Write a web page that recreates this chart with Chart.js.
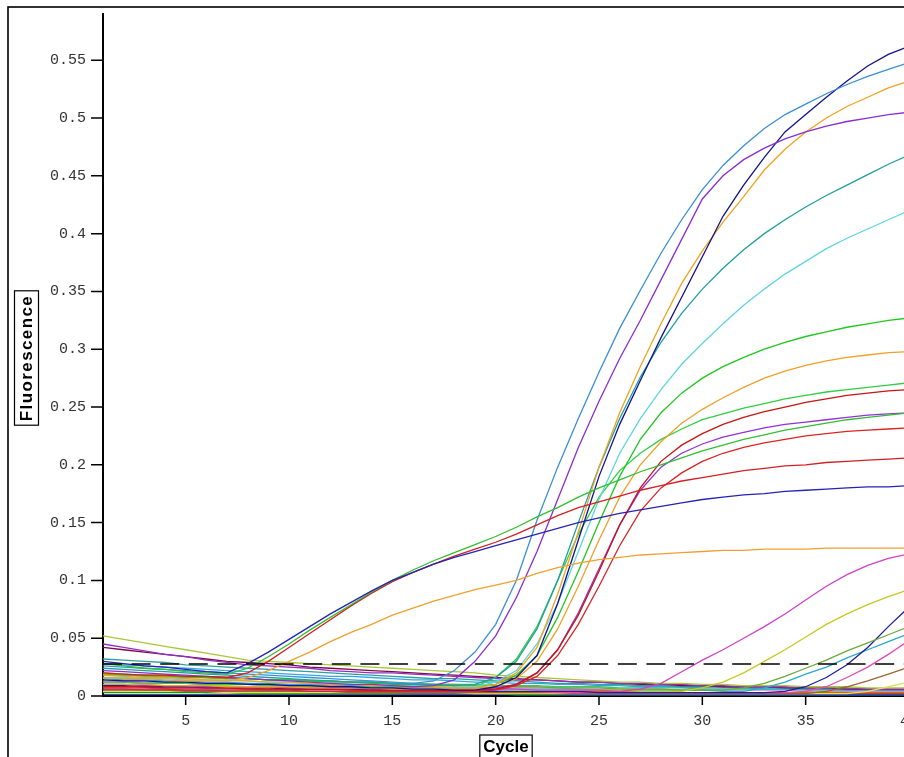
<!DOCTYPE html>
<html>
<head>
<meta charset="utf-8">
<title>Amplification plot</title>
<script src="https://cdn.jsdelivr.net/npm/chart.js@4.4.1/dist/chart.umd.min.js"></script>
<style>
  html, body { margin: 0; padding: 0; background: #fff; }
  #frame { width: 904px; height: 757px; overflow: hidden; }
  #plot { display: block; }
</style>
</head>
<body>
<div id="frame"><canvas id="plot" width="918" height="757" style="width:918px;height:757px"></canvas></div>
<script>
// ---- Axes ----
const CYCLES = [1,2,3,4,5,6,7,8,9,10,11,12,13,14,15,16,17,18,19,20,
                21,22,23,24,25,26,27,28,29,30,31,32,33,34,35,36,37,38,39,40];
const X_TITLE = "Cycle";
const Y_TITLE = "Fluorescence";
const THRESHOLD = 0.0277;

// ---- Wells: early risers ----
const eBlue = [0.030,0.028,0.026,0.025,0.023,0.021,0.020,0.028,0.038,0.049,
  0.060,0.071,0.081,0.091,0.100,0.107,0.114,0.120,0.125,0.130,
  0.135,0.140,0.145,0.150,0.154,0.158,0.161,0.164,0.167,0.170,
  0.172,0.174,0.175,0.177,0.178,0.179,0.180,0.181,0.181,0.182];
const eGreen = [0.028,0.026,0.024,0.023,0.021,0.020,0.019,0.024,0.034,0.045,
  0.057,0.068,0.079,0.090,0.100,0.109,0.117,0.124,0.131,0.138,
  0.146,0.155,0.163,0.172,0.180,0.187,0.194,0.200,0.206,0.212,
  0.217,0.222,0.226,0.230,0.233,0.236,0.239,0.241,0.243,0.245];
const eRed = [0.020,0.019,0.018,0.018,0.017,0.017,0.016,0.020,0.030,0.042,
  0.054,0.066,0.078,0.089,0.099,0.107,0.114,0.121,0.127,0.133,
  0.140,0.148,0.156,0.163,0.168,0.173,0.178,0.182,0.186,0.189,
  0.192,0.195,0.197,0.199,0.200,0.202,0.203,0.204,0.205,0.206];
const eOrange = [0.016,0.015,0.015,0.014,0.013,0.013,0.013,0.016,0.022,0.030,
  0.038,0.047,0.055,0.062,0.070,0.076,0.082,0.087,0.092,0.096,
  0.100,0.106,0.111,0.115,0.118,0.120,0.122,0.123,0.124,0.125,
  0.126,0.126,0.127,0.127,0.127,0.128,0.128,0.128,0.128,0.128];

// ---- Wells: main sigmoid group ----
const steelBlue = [0.026,0.025,0.024,0.023,0.022,0.021,0.020,0.019,0.018,0.017,
  0.016,0.015,0.014,0.013,0.012,0.011,0.013,0.022,0.038,0.062,
  0.100,0.152,0.198,0.240,0.280,0.318,0.351,0.383,0.412,0.438,
  0.459,0.476,0.491,0.503,0.512,0.521,0.529,0.536,0.542,0.548];
const violet = [0.022,0.021,0.020,0.019,0.018,0.017,0.016,0.015,0.014,0.013,
  0.012,0.011,0.010,0.010,0.009,0.008,0.009,0.014,0.030,0.052,
  0.085,0.125,0.170,0.215,0.255,0.292,0.325,0.360,0.395,0.430,
  0.450,0.464,0.474,0.482,0.488,0.493,0.497,0.500,0.503,0.505];
const navy = [0.014,0.013,0.013,0.012,0.012,0.011,0.011,0.010,0.010,0.009,
  0.009,0.008,0.008,0.007,0.007,0.006,0.006,0.005,0.005,0.008,
  0.016,0.035,0.080,0.135,0.190,0.235,0.273,0.310,0.345,0.380,
  0.415,0.442,0.466,0.488,0.503,0.518,0.532,0.545,0.555,0.562];
const gold = [0.018,0.017,0.016,0.016,0.015,0.014,0.014,0.013,0.012,0.012,
  0.011,0.010,0.010,0.009,0.009,0.008,0.008,0.007,0.007,0.010,
  0.020,0.042,0.088,0.142,0.198,0.245,0.285,0.322,0.357,0.385,
  0.410,0.432,0.455,0.473,0.488,0.500,0.510,0.518,0.526,0.532];
const teal = [0.024,0.023,0.022,0.021,0.020,0.019,0.018,0.017,0.016,0.015,
  0.014,0.013,0.012,0.012,0.011,0.010,0.010,0.009,0.010,0.016,
  0.030,0.058,0.100,0.150,0.198,0.240,0.276,0.306,0.331,0.352,
  0.370,0.386,0.400,0.412,0.423,0.433,0.442,0.451,0.460,0.468];
const cyan = [0.016,0.016,0.015,0.015,0.014,0.014,0.013,0.013,0.012,0.012,
  0.011,0.011,0.010,0.010,0.009,0.009,0.008,0.008,0.008,0.012,
  0.022,0.045,0.080,0.125,0.170,0.210,0.240,0.265,0.287,0.305,
  0.322,0.338,0.352,0.365,0.376,0.387,0.396,0.404,0.412,0.420];
const green2 = [0.020,0.019,0.018,0.018,0.017,0.016,0.016,0.015,0.014,0.014,
  0.013,0.012,0.012,0.011,0.010,0.010,0.009,0.009,0.008,0.010,
  0.018,0.035,0.068,0.108,0.150,0.190,0.222,0.245,0.262,0.275,
  0.285,0.293,0.300,0.306,0.311,0.315,0.319,0.322,0.325,0.327];
const orange2 = [0.010,0.010,0.010,0.009,0.009,0.009,0.008,0.008,0.008,0.008,
  0.007,0.007,0.007,0.007,0.006,0.006,0.006,0.006,0.006,0.008,
  0.015,0.030,0.058,0.095,0.135,0.172,0.200,0.220,0.236,0.248,
  0.258,0.267,0.275,0.281,0.286,0.290,0.293,0.295,0.297,0.298];
const green3 = [0.012,0.012,0.011,0.011,0.011,0.010,0.010,0.010,0.009,0.009,
  0.009,0.008,0.008,0.008,0.007,0.007,0.007,0.007,0.008,0.016,
  0.032,0.060,0.100,0.140,0.172,0.195,0.210,0.222,0.231,0.239,
  0.244,0.249,0.253,0.257,0.260,0.263,0.265,0.267,0.269,0.271];
const red2 = [0.008,0.008,0.008,0.007,0.007,0.007,0.007,0.006,0.006,0.006,
  0.006,0.006,0.005,0.005,0.005,0.005,0.005,0.005,0.005,0.006,
  0.010,0.020,0.040,0.070,0.108,0.148,0.180,0.203,0.217,0.227,
  0.235,0.241,0.246,0.250,0.254,0.257,0.260,0.262,0.264,0.265];
const violet2 = [0.010,0.010,0.009,0.009,0.009,0.008,0.008,0.008,0.008,0.007,
  0.007,0.007,0.007,0.006,0.006,0.006,0.006,0.006,0.006,0.007,
  0.010,0.020,0.040,0.072,0.110,0.148,0.178,0.198,0.210,0.218,
  0.224,0.228,0.232,0.235,0.237,0.239,0.241,0.243,0.244,0.245];
const red3 = [0.006,0.006,0.006,0.006,0.005,0.005,0.005,0.005,0.005,0.005,
  0.004,0.004,0.004,0.004,0.004,0.004,0.004,0.004,0.004,0.005,
  0.009,0.017,0.035,0.062,0.095,0.130,0.160,0.180,0.193,0.203,
  0.210,0.215,0.219,0.222,0.225,0.227,0.229,0.230,0.231,0.232];

// ---- Wells: late risers ----
const magenta = [0.012,0.012,0.011,0.011,0.011,0.010,0.010,0.010,0.009,0.009,
  0.009,0.008,0.008,0.008,0.007,0.007,0.007,0.006,0.006,0.006,
  0.006,0.005,0.005,0.005,0.005,0.004,0.006,0.011,0.021,0.031,
  0.040,0.050,0.060,0.071,0.083,0.095,0.105,0.113,0.119,0.123];
const yellow = [0.010,0.010,0.010,0.009,0.009,0.009,0.009,0.008,0.008,0.008,
  0.008,0.007,0.007,0.007,0.007,0.006,0.006,0.006,0.006,0.006,
  0.005,0.005,0.005,0.005,0.005,0.005,0.004,0.004,0.004,0.007,
  0.012,0.020,0.030,0.040,0.051,0.062,0.071,0.079,0.086,0.092];
const olive = [0.019,0.018,0.018,0.017,0.016,0.016,0.015,0.015,0.014,0.014,
  0.013,0.013,0.012,0.012,0.011,0.011,0.010,0.010,0.009,0.009,
  0.008,0.008,0.007,0.007,0.007,0.006,0.006,0.006,0.005,0.005,
  0.005,0.007,0.011,0.017,0.024,0.031,0.039,0.046,0.053,0.060];
const navyLate = [0.009,0.009,0.008,0.008,0.008,0.007,0.007,0.007,0.007,0.006,
  0.006,0.006,0.006,0.005,0.005,0.005,0.005,0.005,0.004,0.004,
  0.004,0.004,0.004,0.004,0.003,0.003,0.003,0.003,0.003,0.003,
  0.003,0.003,0.003,0.004,0.008,0.016,0.027,0.042,0.060,0.077];
const tealLate = [0.015,0.014,0.014,0.013,0.013,0.012,0.012,0.011,0.011,0.010,
  0.010,0.010,0.009,0.009,0.008,0.008,0.008,0.007,0.007,0.007,
  0.006,0.006,0.006,0.006,0.005,0.005,0.005,0.005,0.005,0.005,
  0.004,0.004,0.007,0.012,0.019,0.025,0.033,0.040,0.047,0.054];
const pinkLate = [0.007,0.007,0.007,0.006,0.006,0.006,0.006,0.006,0.005,0.005,
  0.005,0.005,0.005,0.005,0.004,0.004,0.004,0.004,0.004,0.004,
  0.004,0.004,0.003,0.003,0.003,0.003,0.003,0.003,0.003,0.003,
  0.003,0.003,0.003,0.003,0.004,0.008,0.016,0.025,0.036,0.048];
const brownLate = [0.005,0.005,0.005,0.005,0.004,0.004,0.004,0.004,0.004,0.004,
  0.004,0.004,0.003,0.003,0.003,0.003,0.003,0.003,0.003,0.003,
  0.003,0.003,0.003,0.002,0.002,0.002,0.002,0.002,0.002,0.002,
  0.002,0.002,0.002,0.002,0.002,0.004,0.008,0.013,0.019,0.025];
const paleLate = [0.004,0.004,0.004,0.004,0.004,0.004,0.003,0.003,0.003,0.003,
  0.003,0.003,0.003,0.003,0.003,0.003,0.003,0.003,0.002,0.002,
  0.002,0.002,0.002,0.002,0.002,0.002,0.002,0.002,0.002,0.002,
  0.002,0.002,0.002,0.002,0.002,0.002,0.002,0.004,0.008,0.012];

// ---- Wells: no amplification ----
const flat1 = [0.052,0.049,0.046,0.043,0.040,0.037,0.034,0.031,0.030,0.029,
  0.028,0.027,0.026,0.025,0.024,0.023,0.022,0.021,0.020,0.018,
  0.017,0.016,0.015,0.014,0.013,0.012,0.012,0.011,0.011,0.010,
  0.010,0.009,0.009,0.009,0.008,0.008,0.008,0.007,0.007,0.007];
const flat2 = [0.045,0.042,0.039,0.036,0.034,0.031,0.029,0.027,0.026,0.025,
  0.024,0.022,0.021,0.020,0.020,0.019,0.018,0.017,0.016,0.015,
  0.014,0.014,0.013,0.012,0.012,0.011,0.011,0.010,0.010,0.009,
  0.009,0.008,0.008,0.008,0.007,0.007,0.007,0.006,0.006,0.006];
const flat3 = [0.042,0.040,0.038,0.036,0.034,0.032,0.030,0.029,0.028,0.027,
  0.025,0.024,0.023,0.022,0.021,0.020,0.019,0.018,0.017,0.016,
  0.015,0.014,0.013,0.012,0.012,0.011,0.010,0.010,0.009,0.009,
  0.008,0.008,0.008,0.007,0.007,0.007,0.006,0.006,0.006,0.006];
const flat4 = [0.032,0.031,0.030,0.029,0.027,0.026,0.025,0.024,0.023,0.022,
  0.021,0.020,0.019,0.018,0.017,0.016,0.015,0.015,0.014,0.013,
  0.013,0.012,0.011,0.011,0.010,0.010,0.009,0.009,0.008,0.008,
  0.008,0.007,0.007,0.007,0.006,0.006,0.006,0.006,0.005,0.005];
const flat5 = [0.028,0.027,0.026,0.025,0.024,0.023,0.022,0.021,0.020,0.019,
  0.018,0.017,0.017,0.016,0.015,0.014,0.014,0.013,0.012,0.012,
  0.011,0.011,0.010,0.010,0.009,0.009,0.008,0.008,0.008,0.007,
  0.007,0.007,0.006,0.006,0.006,0.006,0.005,0.005,0.005,0.005];
const flat6 = [0.018,0.018,0.017,0.017,0.016,0.016,0.015,0.015,0.014,0.014,
  0.013,0.013,0.012,0.012,0.011,0.011,0.010,0.010,0.010,0.009,
  0.009,0.009,0.008,0.008,0.008,0.007,0.007,0.007,0.007,0.006,
  0.006,0.006,0.006,0.006,0.005,0.005,0.005,0.005,0.005,0.005];
const flat7 = [0.008,0.008,0.008,0.007,0.007,0.007,0.007,0.007,0.006,0.006,
  0.006,0.006,0.006,0.005,0.005,0.005,0.005,0.005,0.005,0.004,
  0.004,0.004,0.004,0.004,0.004,0.004,0.004,0.003,0.003,0.003,
  0.003,0.003,0.003,0.003,0.003,0.003,0.003,0.003,0.003,0.003];
const flat8 = [0.006,0.006,0.005,0.005,0.005,0.005,0.004,0.004,0.004,0.004,
  0.003,0.003,0.003,0.003,0.003,0.002,0.002,0.002,0.002,0.002,
  0.002,0.002,0.002,0.001,0.001,0.001,0.001,0.001,0.001,0.001,
  0.001,0.001,0.001,0.001,0.001,0.001,0.001,0.001,0.001,0.001];
const flat9 = [0.003,0.003,0.003,0.003,0.003,0.003,0.003,0.002,0.002,0.002,
  0.002,0.002,0.002,0.002,0.002,0.002,0.002,0.002,0.002,0.002,
  0.001,0.001,0.001,0.001,0.001,0.001,0.001,0.001,0.001,0.001,
  0.001,0.001,0.001,0.001,0.001,0.001,0.001,0.001,0.001,0.001];
const flat10 = [0.013,0.013,0.012,0.012,0.012,0.011,0.011,0.011,0.010,0.010,
  0.010,0.009,0.009,0.009,0.009,0.008,0.008,0.008,0.008,0.007,
  0.007,0.007,0.007,0.006,0.006,0.006,0.006,0.006,0.005,0.005,
  0.005,0.005,0.005,0.005,0.004,0.004,0.004,0.004,0.004,0.004];
const flat11 = [0.004,0.004,0.004,0.004,0.004,0.003,0.003,0.003,0.003,0.003,
  0.003,0.003,0.003,0.003,0.003,0.003,0.002,0.002,0.002,0.002,
  0.002,0.002,0.002,0.002,0.002,0.002,0.002,0.002,0.002,0.002,
  0.002,0.002,0.002,0.002,0.002,0.002,0.002,0.002,0.002,0.002];
const flat12 = [0.001,0.001,0.001,0.001,0.001,0.001,0.001,0.001,0.001,0.001,
  0.001,0.001,0.001,0.001,0.001,0.001,0.001,0.001,0.001,0.001,
  0.001,0.001,0.001,0.001,0.001,0.001,0.001,0.001,0.001,0.001,
  0.001,0.001,0.001,0.001,0.001,0.001,0.001,0.001,0.001,0.001];

// well data + trace colour
const wells = [
  [eBlue, "#2424b4"], [eGreen, "#30c030"], [eRed, "#d42020"], [eOrange, "#f0a030"],
  [steelBlue, "#3a8fd6"], [violet, "#8a2ed0"], [navy, "#12128c"], [gold, "#f2a21c"],
  [teal, "#1f9f9f"], [cyan, "#5cd6e0"], [green2, "#1ec81e"], [orange2, "#f0a028"],
  [green3, "#2ecf40"], [red2, "#c81414"], [violet2, "#9430d8"], [red3, "#dc2424"],
  [magenta, "#d040c8"], [yellow, "#c8c820"], [olive, "#70a838"], [navyLate, "#1c1ca8"],
  [tealLate, "#28a8cc"], [pinkLate, "#e848b0"], [brownLate, "#9c6430"], [paleLate, "#e0e060"],
  [flat1, "#a8c838"], [flat2, "#9030c0"], [flat3, "#800848"], [flat4, "#2e9e9e"],
  [flat5, "#30a8e0"], [flat6, "#38c870"], [flat7, "#d06a10"], [flat8, "#3434d0"],
  [flat9, "#10a010"], [flat10, "#e080d0"], [flat11, "#d03030"], [flat12, "#101070"],
];

const isMajorY = (v) => Math.round(v * 100) % 5 === 0;

// ---- Datasets ----
const datasets = [{
  data: [{ x: CYCLES[0], y: THRESHOLD }, { x: CYCLES[CYCLES.length - 1], y: THRESHOLD }],
  borderColor: "#000",
  borderWidth: 1.6,
  borderDash: [19, 9.6],
}];
wells.forEach(([vals, color]) => {
  datasets.push({
    data: CYCLES.map((c, i) => ({ x: c, y: vals[i] })),
    borderColor: color,
    borderWidth: 1.3,
  });
});

// ---- Plugins ----
const framePlugin = {
  id: "frame",
  beforeDraw(chart) {
    const ctx = chart.ctx;
    ctx.save();
    ctx.fillStyle = "#fff";
    ctx.fillRect(0, 0, chart.width, chart.height);
    ctx.strokeStyle = "#000";
    ctx.lineWidth = 1.6;
    ctx.strokeRect(8, 7, chart.width + 20, chart.height + 20);
    ctx.restore();
  },
};

// major / minor tick marks, drawn from the scales' own ticks
const tickMarks = {
  id: "tickMarks",
  afterDraw(chart) {
    const { ctx } = chart;
    const x = chart.scales.x, y = chart.scales.y;
    ctx.save();
    ctx.strokeStyle = "#000";
    ctx.lineWidth = 1.5;
    ctx.beginPath();
    y.ticks.forEach((t) => {
      const py = y.getPixelForValue(t.value);
      const len = isMajorY(t.value) ? 12 : 6;
      ctx.moveTo(y.right - len, py);
      ctx.lineTo(y.right, py);
    });
    x.ticks.forEach((t) => {
      const px = x.getPixelForValue(t.value);
      const len = t.value % 5 === 0 ? 9 : 5;
      ctx.moveTo(px, x.top);
      ctx.lineTo(px, x.top + len);
    });
    ctx.stroke();
    ctx.restore();
  },
};

const boxedTitles = {
  id: "boxedTitles",
  afterDraw(chart) {
    const { ctx, chartArea: a } = chart;
    ctx.save();
    ctx.fillStyle = "#000";
    ctx.strokeStyle = "#000";
    ctx.lineWidth = 1.2;
    ctx.textAlign = "center";
    ctx.textBaseline = "middle";

    // vertical title
    ctx.font = "bold 17px 'Liberation Sans', Arial, sans-serif";
    ctx.letterSpacing = "1.4px";
    const yw = ctx.measureText(Y_TITLE).width;
    ctx.save();
    ctx.translate(26.5, (a.top + a.bottom) / 2 + 3);
    ctx.rotate(-Math.PI / 2);
    ctx.fillText(Y_TITLE, 0, 1);
    ctx.strokeRect(-yw / 2 - 4, -12, yw + 8, 24);
    ctx.restore();

    // horizontal title
    ctx.letterSpacing = "0px";
    const xw = ctx.measureText(X_TITLE).width;
    const cx = (a.left + a.right) / 2;
    ctx.fillText(X_TITLE, cx, 747);
    ctx.strokeRect(cx - xw / 2 - 3.5, 735, xw + 7, 30);
    ctx.restore();
  },
};

const tickFont = { family: "'Liberation Mono', monospace", size: 15 };
// invisible grid ticks give the label offset without widening the layout padding
const hiddenTicks = (len) => ({
  drawOnChartArea: false,
  drawTicks: true,
  tickLength: len,
  tickColor: "rgba(0,0,0,0)",
});

new Chart(document.getElementById("plot"), {
  type: "line",
  data: { datasets },
  options: {
    responsive: false,
    animation: false,
    events: [],
    layout: { padding: { left: 8, top: 14, right: 9, bottom: 0 } },
    plugins: { legend: { display: false }, tooltip: { enabled: false } },
    elements: { point: { radius: 0 }, line: { tension: 0 } },
    scales: {
      x: {
        type: "linear",
        min: 1,
        max: 40,
        border: { display: true, color: "#000", width: 2 },
        grid: hiddenTicks(16),
        ticks: {
          stepSize: 1,
          autoSkip: false,
          maxTicksLimit: 100,
          maxRotation: 0,
          padding: 0,
          color: "#333",
          font: tickFont,
          callback: (v) => (v % 5 === 0 ? String(v) : null),
        },
        afterFit: (s) => { s.height = 61; },
      },
      y: {
        type: "linear",
        min: 0,
        max: 0.59,
        border: { display: true, color: "#000", width: 2 },
        grid: hiddenTicks(17),
        ticks: {
          stepSize: 0.01,
          autoSkip: false,
          maxTicksLimit: 100,
          padding: 0,
          color: "#333",
          font: tickFont,
          callback: (v) => (isMajorY(v) ? String(Number(v.toFixed(2))) : null),
        },
        afterFit: (s) => { s.width = 95; },
      },
    },
  },
  plugins: [framePlugin, tickMarks, boxedTitles],
});
</script>
</body>
</html>
